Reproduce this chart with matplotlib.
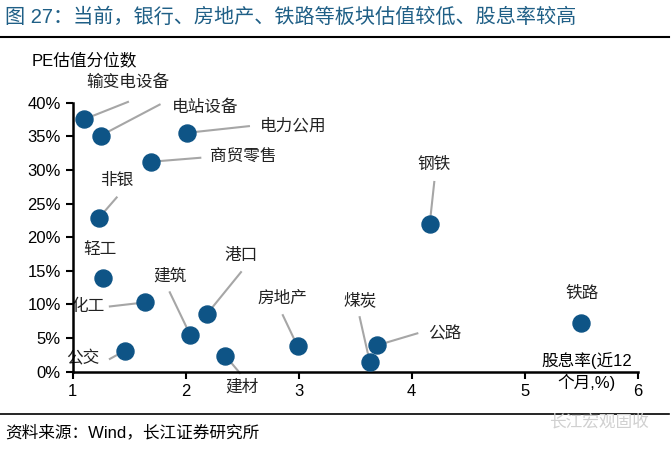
import matplotlib.pyplot as plt
from matplotlib.lines import Line2D

plt.rcParams['font.family'] = ['Liberation Sans', 'Noto Sans CJK SC', 'DejaVu Sans']

# secteurs, rendement (x) et percentile PE (y)
secteurs = ['输变电设备', '电站设备', '电力公用', '商贸零售', '非银', '钢铁', '轻工', '化工',
            '公交', '建筑', '港口', '建材', '房地产', '煤炭', '公路', '铁路']
rendement = [1.10, 1.25, 2.01, 1.69, 1.23, 4.16, 1.27, 1.64,
             1.46, 2.04, 2.19, 2.35, 2.99, 3.63, 3.69, 5.50]
percentile = [0.375, 0.351, 0.355, 0.312, 0.228, 0.220, 0.140, 0.103,
              0.031, 0.055, 0.086, 0.024, 0.038, 0.014, 0.039, 0.072]
# position des etiquettes (texte) et fin du trait de rappel
etiq_x = [1.49, 2.17, 2.95, 2.51, 1.39, 4.20, 1.24, 1.14,
          1.09, 1.86, 2.49, 2.50, 2.86, 3.54, 4.29, 5.51]
etiq_y = [0.43, 0.393, 0.365, 0.318, 0.284, 0.308, 0.182, 0.097,
          0.020, 0.142, 0.173, -0.023, 0.109, 0.106, 0.056, 0.117]
trait_x = [1.49, 1.77, 2.56, 2.13, 1.39, 4.20, None, 1.33,
           1.33, 1.86, 2.49, 2.48, 2.86, 3.54, 4.05, None]
trait_y = [0.401, 0.397, 0.365, 0.318, 0.259, 0.282, None, 0.097,
           0.019, 0.118, 0.148, -0.002, 0.084, 0.081, 0.057, None]

bleu = '#0e5486'
gris = '#a6a6a6'

fig = plt.figure(figsize=(6.72, 4.5), dpi=100)
ax = fig.add_axes([0.108, 0.174, 0.841, 0.598])

for i in range(len(secteurs)):
    if trait_x[i] is not None:
        ax.plot([rendement[i], trait_x[i]], [percentile[i], trait_y[i]],
                color=gris, lw=1.5, clip_on=False, zorder=2)
ax.scatter(rendement, percentile, s=150, color=bleu, zorder=3, clip_on=False)

for i in range(len(secteurs)):
    ax.text(etiq_x[i], etiq_y[i], secteurs[i], ha='center', va='center',
            fontsize=12, color='#222222', clip_on=False, zorder=1)

ax.set_xlim(1, 6)
ax.set_ylim(0, 0.4)
ax.set_xticks([1, 2, 3, 4, 5, 6])
ax.set_yticks([0, 0.05, 0.1, 0.15, 0.2, 0.25, 0.3, 0.35, 0.4])
ax.set_yticklabels(['0%', '5%', '10%', '15%', '20%', '25%', '30%', '35%', '40%'])
ax.tick_params(labelsize=12, width=1.5, length=5, colors='black')
ax.spines['top'].set_visible(False)
ax.spines['right'].set_visible(False)
ax.spines['left'].set_linewidth(1.8)
ax.spines['bottom'].set_linewidth(1.8)
ax.spines['left'].set_zorder(4)

ax.text(0.02, 1.158, 'PE估值分位数', transform=ax.transAxes, fontsize=12,
        ha='center', va='center')
ax.text(5.55, 0.0, '股息率(近12\n个月,%)', fontsize=12, ha='center', va='center',
        linespacing=1.3)

# titre, sources et filets
fig.text(0.008, 0.962, '图 27：当前，银行、房地产、铁路等板块估值较低、股息率较高',
         fontsize=14.5, color='#1f5f86', ha='left', va='center')
fig.add_artist(Line2D([0.0, 0.995], [0.918, 0.918], color='black', lw=1.5))
fig.add_artist(Line2D([0.0, 0.995], [0.081, 0.081], color='black', lw=1.2))
fig.text(0.008, 0.04, '资料来源：Wind，长江证券研究所', fontsize=12,
         ha='left', va='center')
fig.text(0.965, 0.062, '长江宏观固收', fontsize=12, color='#d0d0d0',
         ha='right', va='center')

fig.savefig('out.png', dpi=100)
